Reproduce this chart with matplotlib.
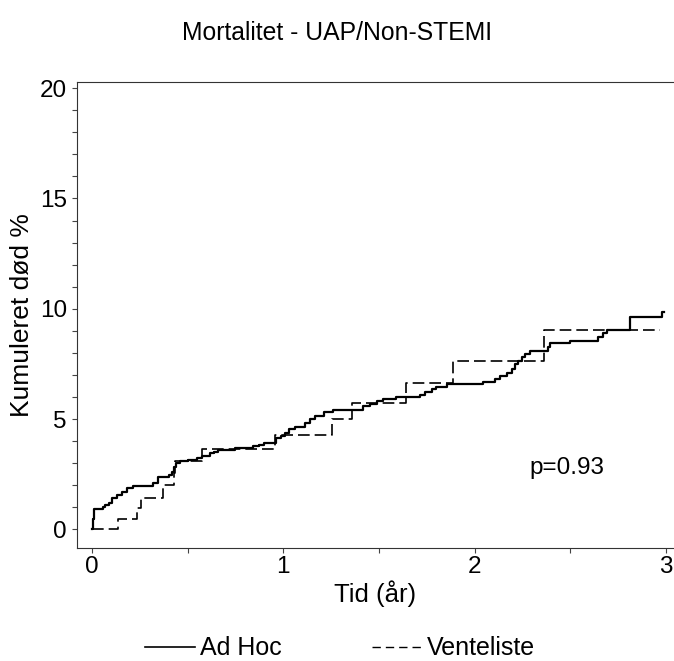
import matplotlib
matplotlib.use("Agg")
import matplotlib.pyplot as plt
from matplotlib.lines import Line2D

plt.rcParams["font.family"] = ["Liberation Sans", "DejaVu Sans"]

# Kaplan-Meier style cumulative mortality (step data)
adHocTime = [0.0, 0.006, 0.012, 0.055, 0.07, 0.087, 0.105, 0.131, 0.157, 0.183, 0.216,
             0.321, 0.345, 0.405, 0.416, 0.428, 0.439, 0.46, 0.50, 0.547, 0.573, 0.617,
             0.64, 0.66, 0.75, 0.84, 0.875, 0.90, 0.96, 0.99, 1.01, 1.03, 1.06, 1.113,
             1.14, 1.166, 1.21, 1.26, 1.418, 1.454, 1.488, 1.52, 1.59, 1.715, 1.74, 1.775,
             1.80, 1.853, 2.046, 2.107, 2.133, 2.168, 2.194, 2.211, 2.229, 2.246, 2.263,
             2.29, 2.386, 2.394, 2.499, 2.647, 2.67, 2.694, 2.812, 2.978, 2.99]
adHocValue = [0.0, 0.45, 0.91, 1.0, 1.1, 1.21, 1.41, 1.56, 1.71, 1.86, 1.98,
              2.12, 2.36, 2.45, 2.61, 2.84, 2.99, 3.1, 3.16, 3.24, 3.32, 3.45,
              3.52, 3.6, 3.67, 3.78, 3.84, 3.93, 4.13, 4.23, 4.35, 4.54, 4.63, 4.83,
              4.99, 5.14, 5.3, 5.42, 5.57, 5.7, 5.83, 5.9, 6.02, 6.1, 6.24, 6.35,
              6.47, 6.6, 6.7, 6.82, 6.96, 7.08, 7.26, 7.5, 7.65, 7.83, 7.95,
              8.1, 8.28, 8.43, 8.55, 8.74, 8.89, 9.04, 9.64, 9.87, 9.87]

ventelisteTime  = [0.0, 0.138, 0.233, 0.255, 0.371, 0.429, 0.435, 0.573, 0.957, 1.253, 1.357, 1.643, 1.885, 2.36, 2.97]
ventelisteValue = [0.0, 0.48, 0.95, 1.43, 2.0, 2.55, 3.08, 3.63, 4.28, 5.0, 5.74, 6.64, 7.64, 9.04, 9.04]

pValueText = "p=0.93"

figure = plt.figure(figsize=(6.74, 6.61), dpi=100)
axes   = figure.add_axes([0.1138, 0.1717, 0.8862, 0.7035])

axes.step(adHocTime, adHocValue, where="post", color="black", linewidth=1.6)
axes.step(ventelisteTime, ventelisteValue, where="post", color="black", linewidth=1.2, dashes=(7, 3))

axes.set_xlim(-0.08, 3.042)
axes.set_ylim(-0.825, 20.26)
axes.set_xticks([0, 1, 2, 3])
axes.set_xticks([0.5, 1.5, 2.5], minor=True)
axes.set_yticks([0, 5, 10, 15, 20])
axes.set_yticks([v for v in range(21) if v % 5 != 0], minor=True)
axes.tick_params(which="both", direction="out", length=3.6, width=0.8, labelsize=17.5, pad=3.5,
                 color="#444444")
axes.tick_params(axis="x", pad=2.5)
axes.spines["right"].set_visible(False)
for spine in axes.spines.values():
    spine.set_linewidth(0.8)
    spine.set_color("#333333")

axes.set_xlabel("Tid (år)", fontsize=18.5, labelpad=1.5)
axes.set_ylabel("Kumuleret død %", fontsize=19, labelpad=4)
axes.text(2.48, 2.78, pValueText, fontsize=17.5, ha="center", va="center")

figure.text(0.5, 0.95, "Mortalitet - UAP/Non-STEMI", fontsize=17.8, ha="center", va="center")

handles = [Line2D([], [], color="black", linewidth=1.2),
           Line2D([], [], color="black", linewidth=1.0, dashes=(6, 3.6))]
figure.legend(handles, ["Ad Hoc", "Venteliste"], loc="center", bbox_to_anchor=(0.505, 0.019),
              ncol=2, frameon=False, fontsize=18, handlelength=2.0, columnspacing=3.6,
              handletextpad=0.2, borderpad=0.1)

figure.savefig("out.png", dpi=100)
